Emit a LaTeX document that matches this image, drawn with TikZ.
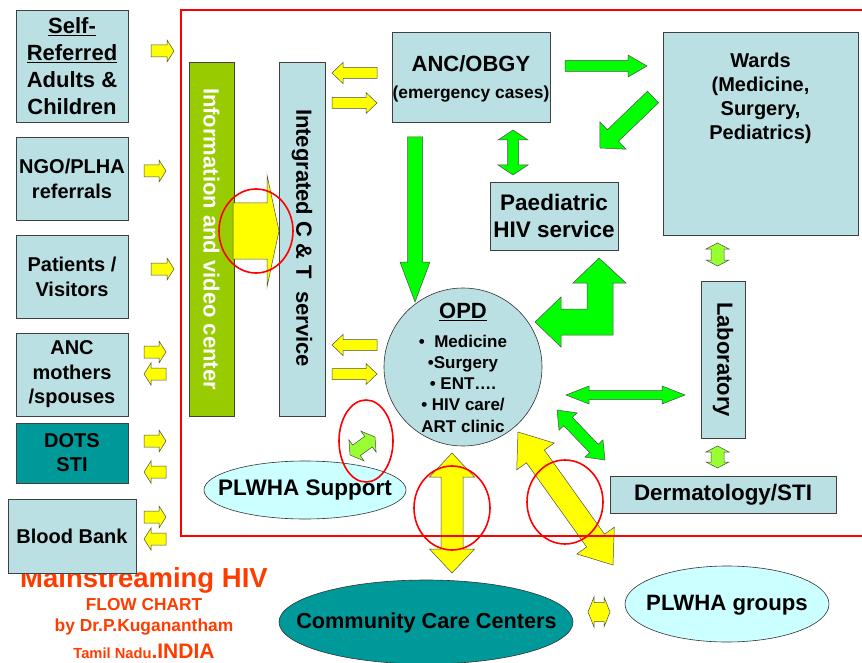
\documentclass[tikz,border=0pt]{standalone}
\usepackage{fontspec}
\setmainfont{Liberation Sans}
\usetikzlibrary{calc,shapes.geometric}
\definecolor{boxblue}{RGB}{187,224,227}
\definecolor{tealc}{RGB}{0,153,153}
\definecolor{cyanl}{RGB}{204,255,255}
\definecolor{infog}{RGB}{153,204,0}
\definecolor{ylw}{RGB}{255,255,0}
\definecolor{grn}{RGB}{0,255,0}
\definecolor{lgrn}{RGB}{153,255,51}
\definecolor{titlered}{RGB}{255,60,0}
\newcommand\txtsz[2]{\fontsize{#1}{#2}\selectfont\bfseries}
% block arrow: style, tail, tip, half body, half head, head length
\newcommand\blkarrow[6]{%
 \coordinate (hA) at ($(#3)!#6pt!(#2)$);
 \draw[#1] ($(#2)!#4pt!90:(#3)$) -- ($(hA)!#4pt!90:(#3)$) -- ($(hA)!#5pt!90:(#3)$) -- (#3)
   -- ($(hA)!#5pt!-90:(#3)$) -- ($(hA)!#4pt!-90:(#3)$) -- ($(#2)!#4pt!-90:(#3)$) -- cycle;}
\newcommand\dblarrow[6]{%
 \coordinate (hA) at ($(#3)!#6pt!(#2)$);
 \coordinate (hB) at ($(#2)!#6pt!(#3)$);
 \draw[#1] (#2) -- ($(hB)!#5pt!90:(#3)$) -- ($(hB)!#4pt!90:(#3)$) -- ($(hA)!#4pt!90:(#3)$)
   -- ($(hA)!#5pt!90:(#3)$) -- (#3) -- ($(hA)!#5pt!-90:(#3)$) -- ($(hA)!#4pt!-90:(#3)$)
   -- ($(hB)!#4pt!-90:(#3)$) -- ($(hB)!#5pt!-90:(#3)$) -- cycle;}
\begin{document}
\begin{tikzpicture}[x=1pt,y=-1pt,
  box/.style={draw=black!75, line width=0.8pt, fill=boxblue, inner sep=0pt, align=center},
  yarr/.style={draw=black!70, line width=0.5pt, fill=ylw},
  garr/.style={draw=black!70, line width=0.5pt, fill=grn},
  lgarr/.style={draw=black!70, line width=0.5pt, fill=lgrn},
  ring/.style={draw=red, line width=1.6pt, ellipse, inner sep=0pt},
  oval/.style={draw=black!80, line width=0.6pt},
  ttl/.style={text=titlered, inner sep=0pt}]
\useasboundingbox (0,0) rectangle (862,663);
\fill[white] (0,0) rectangle (862,663);

% title
\node[ttl, font=\txtsz{27.5}{30}] (t1) at (144,580) {Mainstreaming HIV};
\node[ttl, font=\txtsz{17.3}{20}] (t2) at (144,605) {FLOW CHART};
\node[ttl, font=\txtsz{17.4}{20}] (t3) at (144,627) {by Dr.P.Kuganantham};
\node[ttl, anchor=base] (t4) at (144,658) {\txtsz{14.7}{17}Tamil Nadu\txtsz{21}{24}.INDIA};

% left column
\node[box, font=\txtsz{22}{27}, minimum width=112pt, minimum height=112pt] (self) at (72,66)
  {\underline{Self-}\\\underline{Referred}\\Adults \&\\Children};
\node[box, font=\txtsz{20}{25}, minimum width=112pt, minimum height=83pt] (ngo) at (72,178.5)
  {NGO/PLHA\\referrals};
\node[box, font=\txtsz{20}{25}, minimum width=112pt, minimum height=83pt] (pat) at (72,276.5)
  {Patients /\\Visitors};
\node[box, font=\txtsz{20}{24.5}, minimum width=112pt, minimum height=83pt] (ancm) at (72,374.5)
  {ANC\\mothers\\/spouses};
\node[box, font=\txtsz{20}{24}, fill=tealc, minimum width=112pt, minimum height=60pt] (dots) at (72,453)
  {DOTS\\STI};
\node[box, font=\txtsz{20}{24}, minimum width=128pt, minimum height=74pt] (blood) at (72,536)
  {Blood Bank};

% vertical bars
\node[box, fill=infog, minimum width=45pt, minimum height=354pt] (info) at (211.5,239) {};
\node[rotate=-90, text=white, font=\txtsz{22}{26}] (infot) at (info.center) {Information and video center};
\node[box, minimum width=46pt, minimum height=354pt] (ict) at (302,239) {};
\node[rotate=-90, font=\txtsz{22}{26}] (ictt) at (302,238) {Integrated C \& T\ \ service};

% main boxes
\node[box, minimum width=158pt, minimum height=90pt] (anc) at (471,77) {};
\node[font=\txtsz{22}{26}] (anct) at (471,64) {ANC/OBGY};
\node[font=\txtsz{17.4}{20}] (ancs) at (471,94) {(emergency cases)};
\node[box, minimum width=195pt, minimum height=203pt] (wards) at (760.5,133.5) {};
\node[align=center, font=\txtsz{20}{24}] (wardst) at (760.5,98) {Wards\\(Medicine,\\Surgery,\\Pediatrics)};
\node[box, font=\txtsz{22.5}{27}, minimum width=128pt, minimum height=68pt] (paed) at (554,216)
  {Paediatric\\HIV service};
\node[box, minimum width=44pt, minimum height=157pt] (lab) at (723,359.5) {};
\node[rotate=-90, font=\txtsz{22}{26}] (labt) at (lab.center) {Laboratory};
\node[box, font=\txtsz{22.4}{26}, minimum width=226pt, minimum height=37pt] (derm) at (723,494.5)
  {Dermatology/STI};

% OPD
\node[circle, draw=black!80, line width=0.6pt, fill=boxblue, minimum size=158pt, inner sep=0pt] (opd) at (463,367) {};
\node[font=\txtsz{22}{26}] (opdt) at (463,312) {\underline{OPD}};
\node[align=center, font=\txtsz{17}{21.25}] (opdl) at (463,383.5)
  {\textbullet\ \ Medicine\\\textbullet Surgery\\\textbullet\ ENT….\\\textbullet\ HIV care/\\ART clinic};

% ovals
\coordinate (supc) at (305,490);
\coordinate (cccc) at (426,622);
\coordinate (grpc) at (727,604);
\draw[oval, fill=cyanl] (supc) ellipse [x radius=101, y radius=29];
\draw[oval, fill=tealc] (cccc) ellipse [x radius=147, y radius=42];
\draw[oval, fill=cyanl] (grpc) ellipse [x radius=102, y radius=38];
\node[font=\txtsz{22.5}{26}] (sup) at (supc) {PLWHA Support};
\node[font=\txtsz{21.7}{26}] (ccc) at (426.5,623) {Community Care Centers};
\node[font=\txtsz{22.2}{26}] (grp) at (727,605) {PLWHA groups};

% left column arrows
\coordinate (a1) at (151,51);  \coordinate (b1) at (174,51);
\coordinate (a2) at (144,171); \coordinate (b2) at (166,171);
\coordinate (a3) at (151,269); \coordinate (b3) at (174,269);
\coordinate (a4) at (144,352); \coordinate (b4) at (166,352);
\coordinate (a5) at (166,374); \coordinate (b5) at (144,374);
\coordinate (a6) at (144,441); \coordinate (b6) at (166,441);
\coordinate (a7) at (166,472); \coordinate (b7) at (144,472);
\coordinate (a8) at (144,517); \coordinate (b8) at (166,517);
\coordinate (a9) at (166,539); \coordinate (b9) at (144,539);
\foreach \i in {1,...,9} {\blkarrow{yarr}{a\i}{b\i}{6}{11}{7}}

% big yellow arrow info -> ICT
\coordinate (bi1) at (233,231); \coordinate (bi2) at (279,231);
\blkarrow{yarr}{bi1}{bi2}{28}{56}{12}

% ICT <-> ANC and OPD
\coordinate (c1a) at (377,73);  \coordinate (c1b) at (332,73);
\coordinate (c2a) at (332,103); \coordinate (c2b) at (377,103);
\coordinate (c3a) at (377,345); \coordinate (c3b) at (332,345);
\coordinate (c4a) at (332,374); \coordinate (c4b) at (377,374);
\foreach \i in {1,...,4} {\blkarrow{yarr}{c\i a}{c\i b}{5.5}{10.5}{11}}

% green arrows
\coordinate (g1a) at (565,66); \coordinate (g1b) at (647,66);
\blkarrow{garr}{g1a}{g1b}{5.5}{11}{19}
\coordinate (g2a) at (653,97); \coordinate (g2b) at (600,148);
\blkarrow{garr}{g2a}{g2b}{8}{19}{18}
\coordinate (g3a) at (415,137); \coordinate (g3b) at (415,302);
\blkarrow{garr}{g3a}{g3b}{7.5}{15}{40}
\coordinate (g4a) at (513,130); \coordinate (g4b) at (513,175);
\dblarrow{garr}{g4a}{g4b}{5.5}{15}{10}
\coordinate (g5a) at (566,395); \coordinate (g5b) at (685,395);
\dblarrow{garr}{g5a}{g5b}{4.5}{9}{23}
\coordinate (g6a) at (557,410); \coordinate (g6b) at (605,460);
\dblarrow{garr}{g6a}{g6b}{6}{12.5}{16}
% bent arrow paediatric -> OPD
\draw[garr] (535,322) -- (561,297) -- (561,309) -- (587,309) -- (587,283) -- (573,283)
  -- (599,258) -- (626,283) -- (613,283) -- (613,335) -- (561,335) -- (561,347) -- cycle;

% light green small arrows
\coordinate (l1a) at (717.5,243); \coordinate (l1b) at (717.5,266);
\dblarrow{lgarr}{l1a}{l1b}{6.5}{11.5}{6}
\coordinate (l2a) at (717.5,446); \coordinate (l2b) at (717.5,468);
\dblarrow{lgarr}{l2a}{l2b}{6.5}{11.5}{6}
\coordinate (l3a) at (350,455); \coordinate (l3b) at (375,437);
\dblarrow{lgarr}{l3a}{l3b}{6.5}{13}{8}

% yellow big double arrows
\coordinate (y1a) at (452,453); \coordinate (y1b) at (452,573);
\dblarrow{yarr}{y1a}{y1b}{11}{22.5}{24}
\coordinate (y2a) at (518,432); \coordinate (y2b) at (613,565);
\dblarrow{yarr}{y2a}{y2b}{11}{23}{30}
\coordinate (y3a) at (588,612); \coordinate (y3b) at (610,612);
\dblarrow{yarr}{y3a}{y3b}{9.5}{15}{6}

% red frame (right side runs past the picture edge)
\draw[red, line width=1.6pt] (181,10) rectangle (868,536);

% red rings
\node[ring, minimum width=74pt, minimum height=84pt] (r1) at (256,231) {};
\node[ring, minimum width=54pt, minimum height=82pt] (r2) at (366,441) {};
\node[ring, minimum width=76pt, minimum height=84pt] (r3) at (452,508) {};
\node[ring, minimum width=76pt, minimum height=84pt] (r4) at (565,502) {};
\end{tikzpicture}
\end{document}
